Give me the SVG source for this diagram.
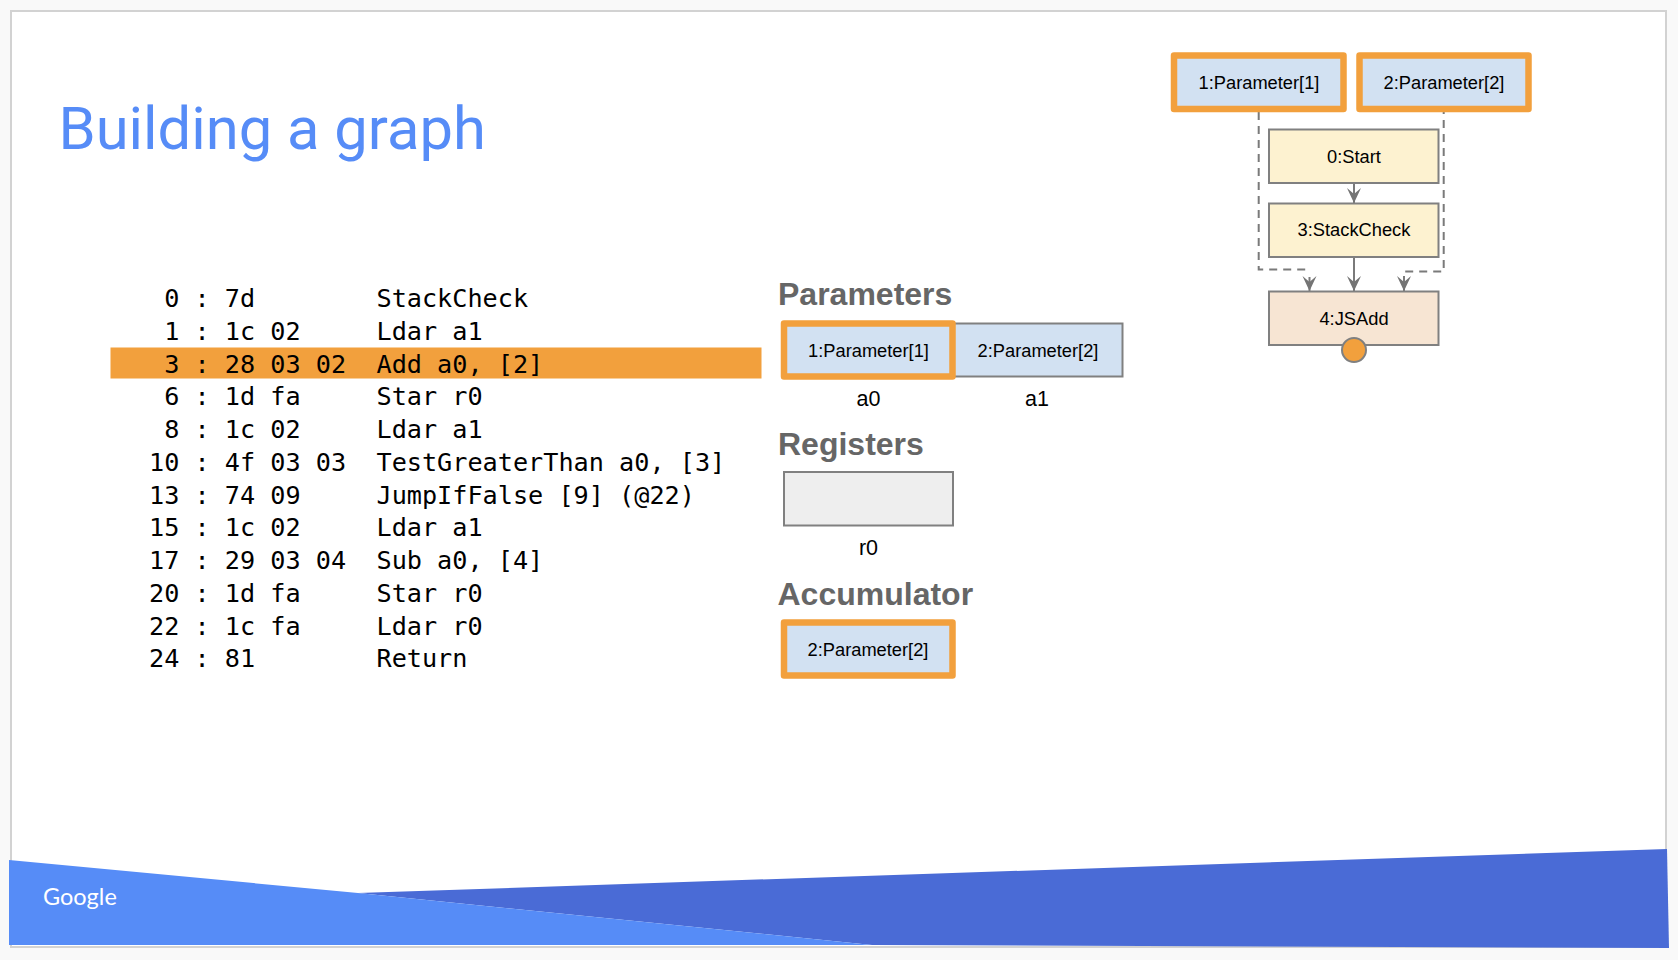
<svg xmlns="http://www.w3.org/2000/svg" width="1678" height="960" viewBox="0 0 1678 960">
<defs>
<marker id="arrow" markerUnits="userSpaceOnUse" markerWidth="18" markerHeight="16" refX="15" refY="7" orient="auto">
<path d="M15,7 L0,0 L6,7 L0,14 Z" fill="#747474"/>
</marker>
</defs>
<style>
.code{font-family:"DejaVu Sans Mono",monospace;font-size:25.2px;fill:#000;white-space:pre}
.head{font-family:"Liberation Sans",Arial,sans-serif;font-size:32px;font-weight:700;fill:#666}
.lab{font-family:"Liberation Sans",Arial,sans-serif;font-size:18.3px;fill:#000;text-anchor:middle}
.reg{font-family:"Liberation Sans",Arial,sans-serif;font-size:21.5px;fill:#000;text-anchor:middle}
.blue{fill:#d2e1f2;stroke:#808080;stroke-width:2}
.yel{fill:#fdf2d0;stroke:#808080;stroke-width:2}
.peach{fill:#f7e5d3;stroke:#808080;stroke-width:2}
.grey{fill:#eeeeee;stroke:#808080;stroke-width:2}
.hot{fill:#d2e1f2;stroke:#f2a03d;stroke-width:6.5;stroke-linejoin:round}
.line{fill:none;stroke:#7a7a7a;stroke-width:2}
.edge{fill:none;stroke:#7a7a7a;stroke-width:2;marker-end:url(#arrow)}
.dash{stroke-dasharray:8 6}
</style>
<rect width="1678" height="960" fill="#f9f9f9"/>
<rect x="11" y="11" width="1655" height="936" fill="#ffffff" stroke="#d2d2d2" stroke-width="2"/>
<g id="banner">
<polygon points="358,893 1667,849 1669,948 872,945" fill="#4a6bd6"/>
<polygon points="9,860 358,893 872,945 9,945" fill="#568cf7"/>
<text x="43" y="905" font-family="Lato,sans-serif" font-size="23.500" fill="#ffffff">Google</text>
</g>
<text x="58.500" y="148.500" font-family="Roboto,sans-serif" font-size="59.700" fill="#568cf7">Building a graph</text>
<g id="code">
<rect x="110.500" y="347.500" width="651" height="31" fill="#f2a03d"/>
<text class="code" x="149" y="307"> 0 : 7d        StackCheck</text>
<text class="code" x="149" y="340"> 1 : 1c 02     Ldar a1</text>
<text class="code" x="149" y="372.700"> 3 : 28 03 02  Add a0, [2]</text>
<text class="code" x="149" y="405.400"> 6 : 1d fa     Star r0</text>
<text class="code" x="149" y="438.100"> 8 : 1c 02     Ldar a1</text>
<text class="code" x="149" y="470.800">10 : 4f 03 03  TestGreaterThan a0, [3]</text>
<text class="code" x="149" y="503.500">13 : 74 09     JumpIfFalse [9] (@22)</text>
<text class="code" x="149" y="536.200">15 : 1c 02     Ldar a1</text>
<text class="code" x="149" y="568.900">17 : 29 03 04  Sub a0, [4]</text>
<text class="code" x="149" y="601.600">20 : 1d fa     Star r0</text>
<text class="code" x="149" y="634.800">22 : 1c fa     Ldar r0</text>
<text class="code" x="149" y="667">24 : 81        Return</text>
</g>
<g id="state-panel">
<text class="head" x="778" y="305">Parameters</text>
<text class="head" x="778" y="455">Registers</text>
<text class="head" x="777.500" y="605">Accumulator</text>
</g>
<g id="slot-a1"><rect class="blue" x="940" y="323.500" width="182.500" height="53"/><text class="lab" x="1038" y="356.500">2:Parameter[2]</text><text class="reg" x="1037" y="405.500">a1</text></g>
<g id="slot-a0"><rect class="hot" x="784" y="323.500" width="168.500" height="53"/><text class="lab" x="868.500" y="356.500">1:Parameter[1]</text><text class="reg" x="868.500" y="405.500">a0</text></g>
<g id="slot-r0"><rect class="grey" x="784" y="472" width="169" height="53.500"/><text class="reg" x="868.500" y="555">r0</text></g>
<g id="slot-acc"><rect class="hot" x="784" y="622.500" width="168.500" height="53"/><text class="lab" x="868" y="655.500">2:Parameter[2]</text></g>
<g id="connectors">
<path class="line dash" d="M1258.700,112 V269.500 H1310"/>
<path class="edge" d="M1309.500,277 V291"/>
<path class="line dash" stroke-dashoffset="6" d="M1443.700,112 V271.500 H1405.200"/>
<path class="edge" d="M1404,276 V291"/>
<path class="edge" d="M1354,183 V203"/>
<path class="edge" d="M1354,257 V291"/>
</g>
<g id="n1"><rect class="hot" x="1174" y="55.500" width="169.500" height="53.500"/><text class="lab" x="1259" y="89">1:Parameter[1]</text></g>
<g id="n2"><rect class="hot" x="1359.500" y="55.500" width="169" height="53.500"/><text class="lab" x="1444" y="89">2:Parameter[2]</text></g>
<g id="n0"><rect class="yel" x="1269" y="129.500" width="169.500" height="53.500"/><text class="lab" x="1354" y="163">0:Start</text></g>
<g id="n3"><rect class="yel" x="1269" y="203.500" width="169.500" height="53.500"/><text class="lab" x="1354" y="236">3:StackCheck</text></g>
<g id="n4"><rect class="peach" x="1269" y="291.500" width="169.500" height="53.500"/><text class="lab" x="1354" y="325">4:JSAdd</text><circle cx="1354" cy="350" r="12" fill="#f2a03d" stroke="#808080" stroke-width="2"/></g>
</svg>
